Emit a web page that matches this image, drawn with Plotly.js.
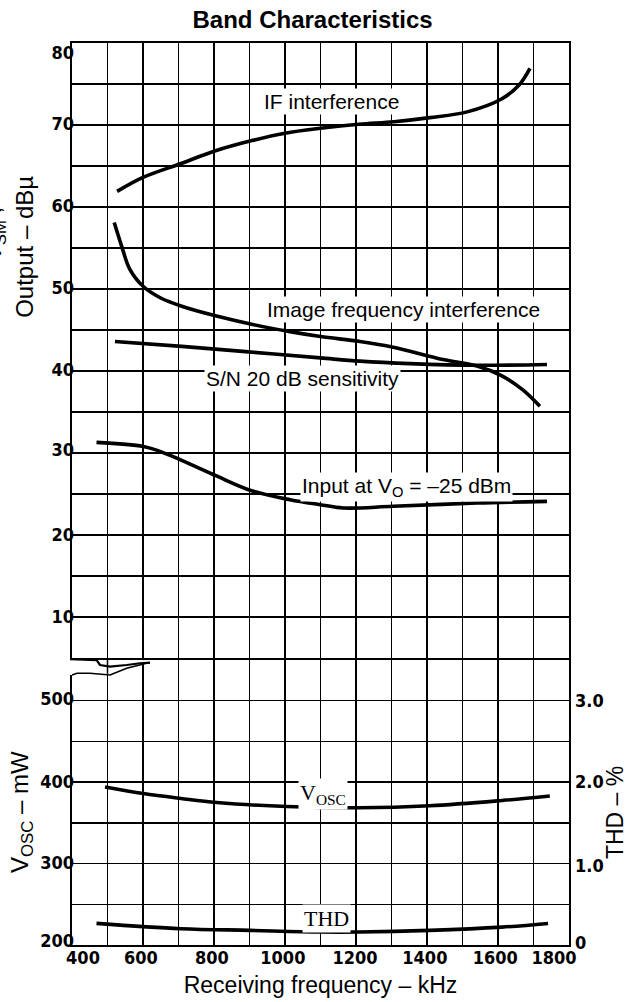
<!DOCTYPE html>
<html>
<head>
<meta charset="utf-8">
<script src="https://cdn.plot.ly/plotly-3.0.1.min.js"></script>
<style>html,body{margin:0;padding:0;background:#fff;}#chart{width:634px;height:1002px;}</style>
</head>
<body>
<div id="chart"></div>
<script>
// ---- data ----
const ifFreq   = [527, 600, 707, 800, 907, 1000, 1100, 1208, 1307, 1408, 1513, 1611, 1660, 1690];
const ifLevel  = [61.9, 63.6, 65.3, 66.8, 68.1, 69.0, 69.6, 70.1, 70.4, 70.9, 71.6, 73.2, 74.9, 76.9];

const imgFreq  = [519, 540, 563, 601, 650, 709, 807, 906, 1014, 1100, 1211, 1305, 1445, 1541, 1611, 1670, 1718];
const imgLevel = [58.1, 55.2, 52.4, 50.3, 48.9, 47.9, 46.7, 45.7, 44.8, 44.2, 43.6, 42.9, 41.4, 40.6, 39.4, 37.7, 35.7];

const snFreq   = [521, 709, 906, 1099, 1211, 1352, 1541, 1738];
const snLevel  = [43.6, 43.0, 42.3, 41.6, 41.2, 40.9, 40.7, 40.8];

const inFreq   = [469, 601, 648, 709, 807, 906, 1014, 1099, 1164, 1305, 1541, 1738];
const inLevel  = [31.3, 30.8, 30.2, 29.1, 27.2, 25.4, 24.3, 23.7, 23.3, 23.5, 23.9, 24.1];

const oscFreq  = [493, 601, 707, 808, 1005, 1208, 1408, 1611, 1746];
const oscPower = [394, 386, 380, 375, 370, 368.5, 371, 377.5, 383];

const thdFreq  = [469, 707, 901, 1099, 1208, 1408, 1611, 1741];
const thdPct   = [0.265, 0.20, 0.18, 0.16, 0.16, 0.18, 0.22, 0.265];

// ---- grid and tick labels ----
const xGridVals  = [400,500,600,700,800,900,1000,1100,1200,1300,1400,1500,1600,1700,1800];
const xLabelText = ['400','600','800','1000','1200','1400','1600','1800'];
const xLabelAt   = [431, 594, 794, 994, 1197, 1394, 1592, 1758];      // where the printed labels sit
const yGridVals  = [5,10,15,20,25,30,35,40,45,50,55,60,65,70,75,80];
const yLabelText = ['10','20','30','40','50','60','70','80'];
const yLabelAt   = [10, 20, 30.4, 40.1, 50.2, 60.2, 70.2, 78.8];
const y2GridVals = [200,250,300,350,400,450,500,550];
const y2LabelText = ['200','300','400','500'];
const y2LabelAt   = [205, 300.5, 400.5, 502];
const y3LabelText = ['0','1.0','2.0','3.0'];
const y3LabelAt   = [0.03, 0.98, 2.0, 3.0];

// ---- styling ----
const sans = 'Liberation Sans, Arial, sans-serif';
const tickFam = 'Liberation Sans Narrow, DejaVu Sans Condensed, Liberation Sans, Arial, sans-serif';
const serif = 'Liberation Serif, Times New Roman, serif';
const curve = {color:'#000', width:3.6, shape:'spline', smoothing:1};
const tickFont = {family:tickFam, size:18, color:'#000', weight:'bold'};
const GW = 1.5;

function tr(x, y, yaxis){ return {x:x, y:y, yaxis:yaxis, type:'scatter', mode:'lines', line:curve, hoverinfo:'skip', showlegend:false}; }

const data = [
  tr(ifFreq, ifLevel, 'y'),
  tr(imgFreq, imgLevel, 'y'),
  tr(snFreq, snLevel, 'y'),
  tr(inFreq, inLevel, 'y'),
  tr(oscFreq, oscPower, 'y2'),
  tr(thdFreq, thdPct, 'y3'),
  // empty carriers so the label-only overlay axes are drawn
  tr([], [], 'y4'),
  tr([], [], 'y5')
];

// grid-carrying axes (no labels)
function gridAxis(gridVals, extra){
  return Object.assign({
    showgrid:true, gridcolor:'#000', gridwidth:GW, showline:true, linecolor:'#000', linewidth:2, mirror:'all',
    ticks:'', zeroline:false, showticklabels:false, tickmode:'array', tickvals:gridVals, fixedrange:true
  }, extra);
}
// label-carrying overlay axes (no grid)
function labelAxis(labelAt, labelText, extra){
  return Object.assign({
    showgrid:false, showline:false, zeroline:false, ticks:'', tickfont:tickFont, tickmode:'array',
    tickvals:labelAt, ticktext:labelText, fixedrange:true
  }, extra);
}

const lowTop = (945 - 660) / 902;   // lower panel domain top
const upBot  = (945 - 658) / 902;   // upper panel domain bottom

function ann(x, y, text, size){
  return {x:x, y:y, xref:'paper', yref:'paper', text:text, showarrow:false, textangle:-90,
    xanchor:'center', yanchor:'middle', font:{family:sans, size:size, color:'#000'}};
}
function lab(x, y, yref, text, fam, size){
  return {x:x, y:y, xref:'x', yref:yref, text:text, showarrow:false, bgcolor:'#fff', borderpad:1,
    xanchor:'center', yanchor:'middle', font:{family:fam, size:size, color:'#000'}};
}

const layout = {
  width:634, height:1002,
  margin:{l:72, r:65, t:43, b:57, pad:0},
  paper_bgcolor:'#fff', plot_bgcolor:'#fff',
  showlegend:false,
  title:{text:'<b>Band Characteristics</b>', font:{family:sans, size:24, color:'#000'},
         xref:'container', yref:'container', x:0.493, y:0.980, xanchor:'center', yanchor:'middle'},
  xaxis:{range:[400,1800], anchor:'y2', showgrid:false, showline:true, linecolor:'#000', linewidth:2, mirror:'all',
     ticks:'', zeroline:false, tickfont:tickFont, tickmode:'array', tickvals:xLabelAt, ticktext:xLabelText,
     ticklabelstandoff:-5, fixedrange:true,
     minor:{tickmode:'array', tickvals:xGridVals, showgrid:true, gridcolor:'#000', gridwidth:GW, ticks:''},
     title:{text:'Receiving frequency – kHz', font:{family:sans, size:23, color:'#000'}, standoff:10}},
  yaxis:gridAxis(yGridVals, {domain:[upBot,1], range:[5,80], anchor:'x'}),
  yaxis2:gridAxis(y2GridVals, {domain:[0,lowTop], range:[200,550], anchor:'x'}),
  yaxis3:labelAxis(y3LabelAt, y3LabelText, {overlaying:'y2', side:'right', anchor:'x', range:[0,3.5], ticklabelstandoff:5}),
  yaxis4:labelAxis(yLabelAt, yLabelText, {overlaying:'y', side:'left', anchor:'x', range:[5,80], ticklabelstandoff:-3}),
  yaxis5:labelAxis(y2LabelAt, y2LabelText, {overlaying:'y2', side:'left', anchor:'x', range:[200,550], ticklabelstandoff:-3}),
  annotations:[
    lab(1130, 72.9, 'y', 'IF interference', sans, 21),
    lab(1335, 47.5, 'y', 'Image frequency interference', sans, 21),
    lab(1048, 39.1, 'y', 'S/N 20 dB sensitivity', sans, 21),
    lab(1341, 25.8, 'y', 'Input at V<sub>O</sub> = –25 dBm', sans, 21),
    lab(1107, 386, 'y2', 'V<sub>OSC</sub>', serif, 22),
    lab(1118, 233, 'y2', 'THD', serif, 22),
    ann(-0.157, 0.789, 'V<sub>SM</sub> ,', 24),
    ann(-0.0946, 0.774, 'Output – dBµ', 24),
    ann(-0.1006, 0.1475, 'V<sub>OSC</sub> – mW', 24),
    ann(1.0926, 0.1463, 'THD – %', 23)
  ],
  shapes:[
    // axis-break mark (decoration)
    {type:'path', xref:'paper', yref:'y2', layer:'above', fillcolor:'#fff', line:{width:0},
     path:'M -0.012 556.5 L 0.141 556.5 L 0.143 550 L 0.157 546.7 L 0.150 546.0 L 0.110 539.8 L 0.0765 531.6 L 0.036 533.7 L 0.010 533.7 L 0 531.6 L -0.012 531.6 Z'},
    {type:'line', xref:'paper', yref:'y2', layer:'above', x0:0.0714, x1:0.0714, y0:533, y1:556, line:{color:'#000', width:GW}},
    {type:'path', xref:'paper', yref:'y2', layer:'above', line:{color:'#000', width:2.2},
     path:'M -0.004 550.9 L 0.0497 549.8 L 0.0563 543.9 L 0.0765 541.8 L 0.110 543.9 L 0.137 546.0 L 0.157 546.7'},
    {type:'path', xref:'paper', yref:'y2', layer:'above', line:{color:'#000', width:1.6},
     path:'M 0 531.6 L 0.010 533.7 L 0.036 533.7 L 0.0765 531.6 L 0.110 539.8 L 0.150 546.0 L 0.157 546.7'}
  ]
};

Plotly.newPlot('chart', data, layout, {staticPlot:true, displayModeBar:false});
</script>
</body>
</html>
